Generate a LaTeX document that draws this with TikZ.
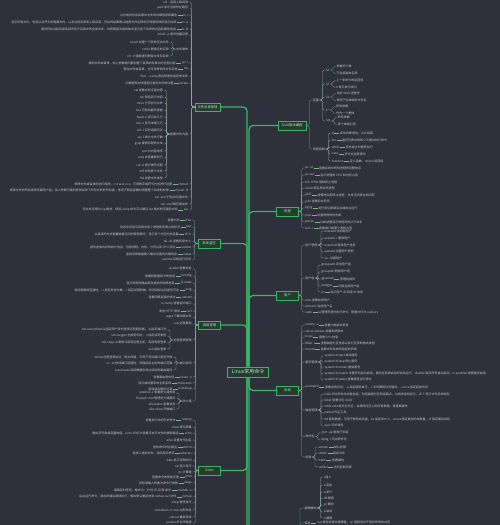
\documentclass[tikz,border=0pt]{standalone}
\usepackage{fontspec}
\newfontfamily\cjk{Noto Sans CJK SC}
\usetikzlibrary{positioning}

\definecolor{mmbg}{RGB}{46,48,59}
\definecolor{mmgreen}{RGB}{56,182,98}
\definecolor{mmbox}{RGB}{38,60,48}
\definecolor{mmlabel}{RGB}{168,236,186}
\definecolor{mmtwig}{RGB}{138,170,150}
\definecolor{mmtext}{RGB}{198,200,206}

\tikzset{
  trunk/.style={draw=mmgreen, line width=1.3pt, rounded corners=4pt},
  twig/.style={draw=mmtwig, line width=0.3pt, rounded corners=1.5pt},
  root/.style={draw=mmgreen, line width=0.8pt, fill=mmbox, text=mmlabel,
    font=\cjk\fontsize{5}{6}\selectfont, minimum width=41pt, minimum height=10pt, inner sep=1pt},
  branch/.style={draw=mmgreen, line width=0.5pt, fill=mmbox, text=mmlabel,
    font=\cjk\fontsize{3.3}{4}\selectfont, minimum width=22pt, minimum height=8.5pt, inner sep=1pt},
  leafL/.style={anchor=east, text=mmtext, font=\cjk\fontsize{3}{3.5}\selectfont, inner sep=0.4pt},
  leafR/.style={anchor=west, text=mmtext, font=\cjk\fontsize{3}{3.5}\selectfont, inner sep=0.4pt}
}

\begin{document}
\begin{tikzpicture}[x=1pt,y=-1pt]
\fill[mmbg] (0,0) rectangle (500,525);
\useasboundingbox (0,0) rectangle (500,525);

% root and branches
\node[root] (root) at (248,372) {Linux常用命令};
\node[branch, minimum width=25pt] (l1) at (207.5,107) {文件目录管理};
\node[branch] (l2) at (209,243.5) {系统监控};
\node[branch] (l3) at (209.5,325) {网络管理};
\node[branch] (l4) at (209.5,470.5) {Other};
\node[branch, minimum width=28pt] (r1) at (292,125.5) {Shell脚本编程};
\node[branch] (r2) at (287.5,211.5) {进程};
\node[branch] (r3) at (287.5,295.5) {用户};
\node[branch] (r4) at (287.5,390.5) {系统};
\coordinate (l5) at (215,545);
\coordinate (r5) at (297,545);

% trunk
\foreach \b in {l1,l2,l3}
  \draw[trunk] ([xshift=-1pt]root.north) |- (\b.east);
\draw[trunk] ([xshift=-1pt]root.south) |- (l4.east);
\draw[trunk] ([xshift=-1pt]root.south) |- (l5);
\foreach \b in {r1,r2,r3}
  \draw[trunk] ([xshift=1pt]root.north) |- (\b.west);
\draw[trunk] ([xshift=1pt]root.south) |- (r4.west);
\draw[trunk] ([xshift=1pt]root.south) |- (r5);

% ---------- l1
\coordinate (l1x) at ([xshift=-6pt]l1.west);
\foreach \yy/\txt [count=\i] in {2/{cd .. 返回上级目录}, 8/{pwd 显示当前所在路径}, 35/{mkdir -p 递归创建目录},
  76/{find . -name 按名称查找指定的文件}, 197/{tar -zcvf 打包并压缩文件}, 204/{tar -zxvf 解压缩文件}}{
  \coordinate (p) at (0,\yy);
  \node[leafL] (l1a\i) at (l1x |- p) {\txt};
  \draw[twig] (l1.west) -- ++(-3,0) |- (l1a\i.east);
}
\foreach \yy/\cmd/\desc [count=\i] in {
  15/{ls -l}/{以长格式列出目录中文件的详细信息和属性},
  22/{ls -a}/{显示所有文件，包括以点开头的隐藏文件，以及当前目录和上级目录，列出的结果默认按照文件名称的字母顺序排序显示出来},
  29/{ls -R}/{递归列出当前目录及其所有子目录中的全部文件，并按照层次结构依次显示各个目录的内容和属性信息},
  63/{cp -r}/{复制文件或目录，加上参数递归复制整个目录树及其中的全部内容},
  69/{mv}/{移动文件或目录，也可用来修改文件名称},
  83/{locate}/{从数据库中快速定位查找文件的位置},
  184/{chmod}/{修改文件或目录的访问权限，r=4 w=2 x=1，可用数字或符号方式进行设置},
  190/{chown -R}/{修改文件的所有者和所属用户组，加上参数可递归修改目录下所有文件的所有者，常用于网站部署时调整整个目录的权限},
  210/{zip}/{将文件压缩为 zip 格式，使用 unzip 命令可以解压 zip 格式的压缩包文件}}{
  \coordinate (p) at (0,\yy);
  \node[leafL] (l1b\i) at (l1x |- p) {\cmd};
  \node[leafL] (l1d\i) at ([xshift=-5pt]l1b\i.west) {\desc};
  \draw[twig] (l1.west) -- ++(-3,0) |- (l1b\i.east);
  \draw[twig] (l1d\i.east) -- (l1b\i.west);
}
\coordinate (p) at (0,49);
\node[leafL] (l1s1) at (l1x |- p) {文件操作};
\draw[twig] (l1.west) -- ++(-3,0) |- (l1s1.east);
\coordinate (l1s1x) at ([xshift=-6pt]l1s1.west);
\foreach \yy/\txt [count=\i] in {42/{touch 创建一个新的空白文件}, 49/{rmdir 删除空的目录}, 56/{rm -rf 强制递归删除文件及目录}}{
  \coordinate (p) at (0,\yy);
  \node[leafL] (l1s1c\i) at (l1s1x |- p) {\txt};
  \draw[twig] (l1s1.west) -- ++(-3,0) |- (l1s1c\i.east);
}
\coordinate (p) at (0,134);
\node[leafL] (l1s2) at (l1x |- p) {查看文件内容};
\draw[twig] (l1.west) -- ++(-3,0) |- (l1s2.east);
\coordinate (l1s2x) at ([xshift=-6pt]l1s2.west);
\foreach \yy/\txt [count=\i] in {90/{cat 查看文件全部内容}, 97/{tac 倒序显示内容}, 103/{more 分页显示文件}, 110/{less 可前后翻页查看},
  117/{head -n 显示前几行}, 123/{tail -n 显示末尾几行}, 130/{tail -f 实时追踪日志}, 137/{wc -l 统计文件行数},
  144/{grep 搜索匹配的文本}, 151/{sort 对内容排序}, 158/{uniq 去除重复的行}, 165/{cut -d 按分隔符切割},
  171/{diff 比较两个文件}, 178/{file 查看文件类型}}{
  \coordinate (p) at (0,\yy);
  \node[leafL] (l1s2c\i) at (l1s2x |- p) {\txt};
  \draw[twig] (l1s2.west) -- ++(-3,0) |- (l1s2c\i.east);
}

% ---------- l2
\coordinate (l2x) at ([xshift=-6pt]l2.west);
\foreach \yy/\txt [count=\i] in {241/{du -sh 查看目录大小}, 260/{uptime 系统运行时间}}{
  \coordinate (p) at (0,\yy);
  \node[leafL] (l2a\i) at (l2x |- p) {\txt};
  \draw[twig] (l2.west) -- ++(-3,0) |- (l2a\i.east);
}
\foreach \yy/\cmd/\desc [count=\i] in {
  220/{free}/{查看内存},
  227/{top}/{动态实时显示系统中各个进程的资源占用状况},
  234/{df -h}/{以易读的方式查看磁盘空间的使用情况，显示各个分区的总容量},
  247/{vmstat}/{报告虚拟内存的统计信息，包括进程、内存、分页以及 CPU 活动},
  254/{iostat}/{监视系统磁盘输入输出设备的负载信息}}{
  \coordinate (p) at (0,\yy);
  \node[leafL] (l2b\i) at (l2x |- p) {\cmd};
  \node[leafL] (l2d\i) at ([xshift=-5pt]l2b\i.west) {\desc};
  \draw[twig] (l2.west) -- ++(-3,0) |- (l2b\i.east);
  \draw[twig] (l2d\i.east) -- (l2b\i.west);
}

% ---------- l3
\coordinate (l3x) at ([xshift=-6pt]l3.west);
\foreach \yy/\txt [count=\i] in {269/{ip addr 查看地址}, 304/{ss -tunlp 查看监听端口}, 317/{wget 下载网络文件}, 324/{scp 远程复制}}{
  \coordinate (p) at (0,\yy);
  \node[leafL] (l3a\i) at (l3x |- p) {\txt};
  \draw[twig] (l3.west) -- ++(-3,0) |- (l3a\i.east);
}
\foreach \yy/\cmd/\desc [count=\i] in {
  276/{ifconfig}/{查看和配置网卡的信息},
  283/{ip route}/{显示和修改路由表及相关的网络信息},
  290/{ping}/{测试网络的连通性，-c 指定发送次数，-i 指定间隔秒数，检测目标主机是否可达},
  297/{netstat}/{查看网络连接的状态},
  311/{curl}/{发送 HTTP 请求},
  377/{route -n}/{查看路由表信息},
  383/{hostname}/{显示或设置系统主机名称},
  389/{nslookup}/{查询域名解析记录}}{
  \coordinate (p) at (0,\yy);
  \node[leafL] (l3b\i) at (l3x |- p) {\cmd};
  \node[leafL] (l3d\i) at ([xshift=-5pt]l3b\i.west) {\desc};
  \draw[twig] (l3.west) -- ++(-3,0) |- (l3b\i.east);
  \draw[twig] (l3d\i.east) -- (l3b\i.west);
}
\coordinate (p) at (0,340);
\node[leafL] (l3s1) at (l3x |- p) {远程登录管理};
\draw[twig] (l3.west) -- ++(-3,0) |- (l3s1.east);
\coordinate (l3s1x) at ([xshift=-6pt]l3s1.west);
\foreach \yy/\txt [count=\i] in {330/{ssh user@host 以指定用户身份登录远程服务器，-p 指定端口号}, 336/{ssh-keygen 生成密钥对，-t 指定加密类型},
  343/{ssh-copy-id 复制公钥到远程主机，实现免密登录}, 349/{exit 退出登录}}{
  \coordinate (p) at (0,\yy);
  \node[leafL] (l3s1c\i) at (l3s1x |- p) {\txt};
  \draw[twig] (l3s1.west) -- ++(-3,0) |- (l3s1c\i.east);
}
\coordinate (p) at (0,363);
\node[leafL] (l3s2) at (l3x |- p) {端口检测};
\draw[twig] (l3.west) -- ++(-3,0) |- (l3s2.east);
\coordinate (l3s2x) at ([xshift=-6pt]l3s2.west);
\foreach \yy/\txt [count=\i] in {357/{telnet 远程登录协议，明文传输，可用于测试端口是否开放}, 363/{nc -zv 检测端口连通性，扫描指定主机的端口范围},
  370/{traceroute 追踪数据包到达目标的路由路径}}{
  \coordinate (p) at (0,\yy);
  \node[leafL] (l3s2c\i) at (l3s2x |- p) {\txt};
  \draw[twig] (l3s2.west) -- ++(-3,0) |- (l3s2c\i.east);
}
\coordinate (p) at (0,401);
\node[leafL] (l3s3) at (l3x |- p) {防火墙};
\draw[twig] (l3.west) -- ++(-3,0) |- (l3s3.east);
\coordinate (l3s3x) at ([xshift=-6pt]l3s3.west);
\foreach \yy/\txt [count=\i] in {393/{iptables -L 查看防火墙规则}, 398/{firewall-cmd 管理防火墙服务}, 404/{ufw status 查看状态}, 409/{ufw allow 开放端口}}{
  \coordinate (p) at (0,\yy);
  \node[leafL] (l3s3c\i) at (l3s3x |- p) {\txt};
  \draw[twig] (l3s3.west) -- ++(-3,0) |- (l3s3c\i.east);
}

% ---------- l4
\coordinate (l4x) at ([xshift=-6pt]l4.west);
\foreach \yy/\txt [count=\i] in {427/{clear 清空屏幕}, 440/{alias 设置命令别名}, 460/{date 显示日期时间}, 466/{cal 显示日历},
  472/{bc 计算器}, 503/{sleep 暂停执行}, 510/{shutdown -h now 立即关机}, 517/{reboot 重启系统}, 523/{poweroff 关闭电源}}{
  \coordinate (p) at (0,\yy);
  \node[leafL] (l4a\i) at (l4x |- p) {\txt};
  \draw[twig] (l4.west) -- ++(-3,0) |- (l4a\i.east);
}
\foreach \yy/\cmd/\desc [count=\i] in {
  420/{history}/{查看执行过的历史命令},
  433/{echo}/{输出字符串或变量的值，echo \$PATH 查看可执行文件的搜索路径},
  447/{which}/{查找命令所在路径},
  453/{whereis}/{查找二进制文件、源码和手册页},
  477/{man}/{查看命令的帮助手册},
  483/{xargs}/{将标准输入转换为命令行参数},
  490/{crontab -e}/{编辑定时任务，格式为：分 时 日 月 周 命令},
  497/{nohup}/{后台运行命令，退出终端后继续执行，输出默认重定向到 nohup.out 文件}}{
  \coordinate (p) at (0,\yy);
  \node[leafL] (l4b\i) at (l4x |- p) {\cmd};
  \node[leafL] (l4d\i) at ([xshift=-5pt]l4b\i.west) {\desc};
  \draw[twig] (l4.west) -- ++(-3,0) |- (l4b\i.east);
  \draw[twig] (l4d\i.east) -- (l4b\i.west);
}

% ---------- r1
\coordinate (r1x) at ([xshift=6pt]r1.east);
\coordinate (p) at (0,100);
\node[leafR] (r1s1) at (r1x |- p) {变量};
\draw[twig] (r1.east) -- ++(3,0) |- (r1s1.west);
\coordinate (r1s1x) at ([xshift=6pt]r1s1.east);
\foreach \yy/\cmd/\da/\db [count=\i] in {70/{\$\#}/{参数的个数}/{不包括脚本名称}, 84/{\$?}/{上一条命令的返回值}/{0 表示执行成功},
  97/{\$\$}/{当前 Shell 进程号}/{常用于生成临时文件名}, 110/{\$*}/{所有参数}/{作为一个整体}, 121/{\$@}/{所有参数}/{逐个单独引用}}{
  \coordinate (p) at (0,\yy);
  \node[leafR] (r1v\i) at (r1s1x |- p) {\cmd};
  \draw[twig] (r1s1.east) -- ++(3,0) |- (r1v\i.west);
  \coordinate (q) at ([xshift=6pt]r1v\i.east);
  \coordinate (p) at (0,\yy-3.2);
  \node[leafR] (r1va\i) at (q |- p) {\da};
  \coordinate (p) at (0,\yy+3.2);
  \node[leafR] (r1vb\i) at (q |- p) {\db};
  \draw[twig] (r1v\i.east) -- ++(3,0) |- (r1va\i.west);
  \draw[twig] (r1v\i.east) -- ++(3,0) |- (r1vb\i.west);
}
\coordinate (p) at (0,149);
\node[leafR] (r1s2) at (r1x |- p) {流程控制};
\draw[twig] (r1.east) -- ++(3,0) |- (r1s2.west);
\coordinate (r1s2x) at ([xshift=6pt]r1s2.east);
\foreach \yy/\cmd/\desc [count=\i] in {133/{if}/{条件判断语句，以 fi 结束}, 140/{for}/{遍历列表中的每个元素并执行命令},
  147/{while}/{条件成立时循环执行}, 154/{case}/{多分支选择语句}, 161/{function}/{定义函数，return 返回值}}{
  \coordinate (p) at (0,\yy);
  \node[leafR] (r1c\i) at (r1s2x |- p) {\cmd};
  \node[leafR] (r1d\i) at ([xshift=5pt]r1c\i.east) {\desc};
  \draw[twig] (r1s2.east) -- ++(3,0) |- (r1c\i.west);
  \draw[twig] (r1c\i.east) -- (r1d\i.west);
}

% ---------- r2
\coordinate (r2x) at ([xshift=6pt]r2.east);
\foreach \yy/\txt [count=\i] in {182/{kill -9 PID 强制终止进程}, 188/{killall 按名称杀死进程}, 202/{jobs 查看后台任务}}{
  \coordinate (p) at (0,\yy);
  \node[leafR] (r2a\i) at (r2x |- p) {\txt};
  \draw[twig] (r2.east) -- ++(3,0) |- (r2a\i.west);
}
\foreach \yy/\cmd/\desc [count=\i] in {168/{ps -ef}/{查看系统中所有进程的完整信息}, 175/{ps aux}/{显示进程的 CPU 和内存占用},
  195/{pkill}/{按模式匹配终止进程，支持正则表达式匹配}, 208/{bg fg}/{将任务切换到后台或前台运行},
  215/{nice}/{设置进程的优先级}, 222/{pstree}/{以树状图显示进程间的父子关系}, 228/{lsof -i}/{查看端口被哪个进程占用}}{
  \coordinate (p) at (0,\yy);
  \node[leafR] (r2b\i) at (r2x |- p) {\cmd};
  \node[leafR] (r2d\i) at ([xshift=5pt]r2b\i.east) {\desc};
  \draw[twig] (r2.east) -- ++(3,0) |- (r2b\i.west);
  \draw[twig] (r2b\i.east) -- (r2d\i.west);
}

% ---------- r3
\coordinate (r3x) at ([xshift=6pt]r3.east);
\coordinate (p) at (0,245);
\node[leafR] (r3s1) at (r3x |- p) {用户管理};
\draw[twig] (r3.east) -- ++(3,0) |- (r3s1.west);
\coordinate (r3s1x) at ([xshift=6pt]r3s1.east);
\foreach \yy/\txt [count=\i] in {231/{useradd 添加新用户}, 238/{userdel -r 删除用户}, 245/{usermod 修改用户信息},
  252/{passwd 设置用户密码}, 258/{su - 切换用户}}{
  \coordinate (p) at (0,\yy);
  \node[leafR] (r3s1c\i) at (r3s1x |- p) {\txt};
  \draw[twig] (r3s1.east) -- ++(3,0) |- (r3s1c\i.west);
}
\coordinate (p) at (0,278);
\node[leafR] (r3s2) at (r3x |- p) {用户组};
\draw[twig] (r3.east) -- ++(3,0) |- (r3s2.west);
\coordinate (r3s2x) at ([xshift=6pt]r3s2.east);
\foreach \yy/\txt [count=\i] in {265/{groupadd 添加用户组}, 272/{groupdel 删除用户组}}{
  \coordinate (p) at (0,\yy);
  \node[leafR] (r3s2a\i) at (r3s2x |- p) {\txt};
  \draw[twig] (r3s2.east) -- ++(3,0) |- (r3s2a\i.west);
}
\foreach \yy/\cmd/\desc [count=\i] in {279/{gpasswd}/{管理组成员}, 286/{newgrp}/{切换当前用户组}, 292/{id}/{显示用户 ID 和组 ID 信息}}{
  \coordinate (p) at (0,\yy);
  \node[leafR] (r3s2b\i) at (r3s2x |- p) {\cmd};
  \node[leafR] (r3s2d\i) at ([xshift=5pt]r3s2b\i.east) {\desc};
  \draw[twig] (r3s2.east) -- ++(3,0) |- (r3s2b\i.west);
  \draw[twig] (r3s2b\i.east) -- (r3s2d\i.west);
}
\foreach \yy/\txt [count=\i] in {300/{who 查看在线用户}, 306/{whoami 当前用户名}}{
  \coordinate (p) at (0,\yy);
  \node[leafR] (r3a\i) at (r3x |- p) {\txt};
  \draw[twig] (r3.east) -- ++(3,0) |- (r3a\i.west);
}
\coordinate (p) at (0,312);
\node[leafR] (r3b1) at (r3x |- p) {sudo};
\node[leafR] (r3d1) at ([xshift=5pt]r3b1.east) {以管理员身份执行命令，配置文件为 sudoers};
\draw[twig] (r3.east) -- ++(3,0) |- (r3b1.west);
\draw[twig] (r3b1.east) -- (r3d1.west);

% ---------- r4
\coordinate (r4x) at ([xshift=6pt]r4.east);
\coordinate (p) at (0,331);
\node[leafR] (r4a1) at (r4x |- p) {cat os-release 查看系统版本};
\draw[twig] (r4.east) -- ++(3,0) |- (r4a1.west);
\foreach \yy/\cmd/\desc [count=\i] in {325/{uname -a}/{查看内核版本信息}, 337/{lscpu}/{查看 CPU 信息},
  343/{fdisk -l}/{查看磁盘分区信息以及分区表的格式类型}, 349/{mount}/{挂载文件系统到指定的目录},
  387/{journalctl}/{查看系统日志，-u 指定服务单元，-f 实时跟踪日志输出，-{}-since 指定起始时间}}{
  \coordinate (p) at (0,\yy);
  \node[leafR] (r4b\i) at (r4x |- p) {\cmd};
  \node[leafR] (r4d\i) at ([xshift=5pt]r4b\i.east) {\desc};
  \draw[twig] (r4.east) -- ++(3,0) |- (r4b\i.west);
  \draw[twig] (r4b\i.east) -- (r4d\i.west);
}
\coordinate (p) at (0,362);
\node[leafR] (r4s1) at (r4x |- p) {服务管理};
\draw[twig] (r4.east) -- ++(3,0) |- (r4s1.west);
\coordinate (r4s1x) at ([xshift=6pt]r4s1.east);
\foreach \yy/\txt [count=\i] in {356/{systemctl start 启动服务}, 362/{systemctl stop 停止服务}, 368/{systemctl restart 重启服务},
  374/{systemctl enable 设置开机自动启动，服务在系统启动时自动运行，disable 取消开机自动启动，is-enabled 查看是否启用},
  380/{systemctl status 查看服务运行状态}}{
  \coordinate (p) at (0,\yy);
  \node[leafR] (r4s1c\i) at (r4s1x |- p) {\txt};
  \draw[twig] (r4s1.east) -- ++(3,0) |- (r4s1c\i.west);
}
\coordinate (p) at (0,410);
\node[leafR] (r4s2) at (r4x |- p) {磁盘管理};
\draw[twig] (r4.east) -- ++(3,0) |- (r4s2.west);
\coordinate (r4s2x) at ([xshift=6pt]r4s2.east);
\foreach \yy/\txt [count=\i] in {394/{lsblk 列出所有块设备信息，包括磁盘分区和挂载点，以树状结构显示，df -T 显示文件系统类型},
  400/{blkid 查看分区 UUID}, 406/{mkfs.ext4 格式化分区，会清除分区上的所有数据，请谨慎操作}, 413/{parted 分区工具},
  419/{dd 复制数据，可用于制作启动盘，bs 指定块大小，count 指定复制的块数量，of 指定输出目标}, 426/{sync 同步缓存}}{
  \coordinate (p) at (0,\yy);
  \node[leafR] (r4s2c\i) at (r4s2x |- p) {\txt};
  \draw[twig] (r4s2.east) -- ++(3,0) |- (r4s2c\i.west);
}
\coordinate (p) at (0,436.5);
\node[leafR] (r4s3) at (r4x |- p) {软件包};
\draw[twig] (r4.east) -- ++(3,0) |- (r4s3.west);
\coordinate (r4s3x) at ([xshift=6pt]r4s3.east);
\foreach \yy/\txt [count=\i] in {433/{rpm -qa 查询已安装}, 440/{dpkg -l 列出软件包}}{
  \coordinate (p) at (0,\yy);
  \node[leafR] (r4s3c\i) at (r4s3x |- p) {\txt};
  \draw[twig] (r4s3.east) -- ++(3,0) |- (r4s3c\i.west);
}
\coordinate (p) at (0,457);
\node[leafR] (r4s4) at (r4x |- p) {权限};
\draw[twig] (r4.east) -- ++(3,0) |- (r4s4.west);
\coordinate (r4s4x) at ([xshift=6pt]r4s4.east);
\foreach \yy/\cmd/\desc [count=\i] in {447/{umask}/{默认权限}, 453/{chattr}/{锁定文件}, 460/{lsattr}/{查看属性}, 467/{setfacl}/{访问控制列表}}{
  \coordinate (p) at (0,\yy);
  \node[leafR] (r4s4b\i) at (r4s4x |- p) {\cmd};
  \node[leafR] (r4s4d\i) at ([xshift=5pt]r4s4b\i.east) {\desc};
  \draw[twig] (r4s4.east) -- ++(3,0) |- (r4s4b\i.west);
  \draw[twig] (r4s4b\i.east) -- (r4s4d\i.west);
}

% ---------- r5 (parent below the frame)
\coordinate (r5x) at ([xshift=7pt]r5);
\coordinate (p) at (0,508);
\node[leafR] (r5s1) at (r5x |- p) {编辑模式};
\draw[twig] (r5) -- ++(3,0) |- (r5s1.west);
\coordinate (r5s1x) at ([xshift=6pt]r5s1.east);
\foreach \yy/\txt [count=\i] in {477/{i 插入}, 485/{a 追加}, 492/{o 新行}, 498/{dd 删除}, 505/{yy 复制}, 512/{p 粘贴}, 518/{u 撤销}}{
  \coordinate (p) at (0,\yy);
  \node[leafR] (r5s1c\i) at (r5s1x |- p) {\txt};
  \draw[twig] (r5s1.east) -- ++(3,0) |- (r5s1c\i.west);
}
\coordinate (p) at (0,523);
\node[leafR] (r5b1) at (r5x |- p) {保存};
\node[leafR] (r5d1) at ([xshift=5pt]r5b1.east) {:wq 保存并退出编辑器，:q! 强制退出不保存修改的内容};
\draw[twig] (r5) -- ++(3,0) |- (r5b1.west);
\draw[twig] (r5b1.east) -- (r5d1.west);
\end{tikzpicture}
\end{document}
